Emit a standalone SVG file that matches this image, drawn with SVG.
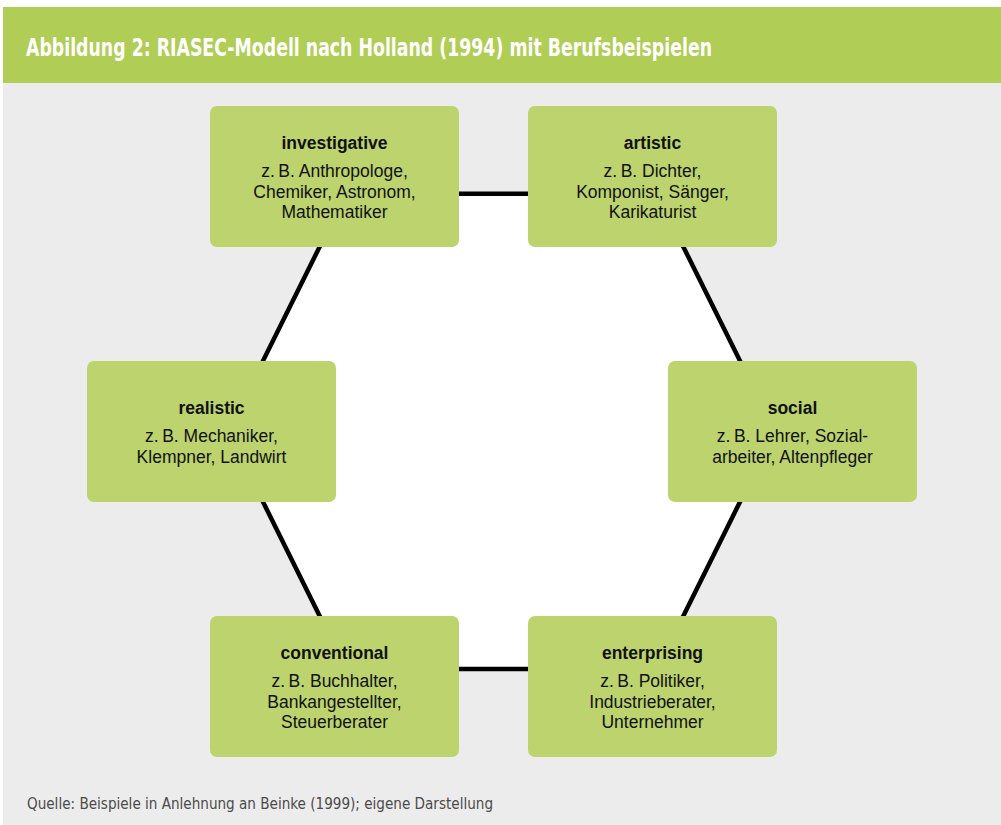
<svg xmlns="http://www.w3.org/2000/svg" width="1001" height="825" viewBox="0 0 1001 825">
  <style>
    .page { fill: #ececec; }
    .band { fill: #b0cd55; }
    .heading { font-family: "DejaVu Sans Condensed", "DejaVu Sans", sans-serif; font-stretch: condensed; font-weight: bold; font-size: 25px; fill: #ffffff; }
    .source { font-family: "DejaVu Sans Condensed", "DejaVu Sans", sans-serif; font-stretch: condensed; font-size: 16px; fill: #4a4a4a; }
    .box { fill: #bcd36e; }
    .ring { fill: #ffffff; stroke: #000000; stroke-width: 4.5; stroke-linejoin: miter; }
    .title { font-family: "Liberation Sans", Arial, sans-serif; font-weight: bold; font-size: 17.5px; fill: #111111; text-anchor: middle; }
    .body { font-family: "Liberation Sans", Arial, sans-serif; font-size: 17.5px; fill: #111111; text-anchor: middle; }
  </style>

  <!-- page background and header band -->
  <rect x="0" y="0" width="1001" height="825" fill="#ffffff"/>
  <rect class="page" x="3" y="83" width="998" height="742"/>
  <rect class="band" x="3" y="7" width="998" height="76"/>
  <text class="heading" x="26" y="56" textLength="686" lengthAdjust="spacingAndGlyphs">Abbildung 2: RIASEC-Modell nach Holland (1994) mit Berufsbeispielen</text>

  <!-- hexagon connecting the six types -->
  <g id="connectors">
    <polygon class="ring" points="346,193.7 657,193.7 775,431.4 657,669 346,669 228,431.4"/>
  </g>

  <g id="investigative">
    <rect class="box" x="210" y="106" width="249" height="141" rx="7"/>
    <text class="title" x="334.5" y="149">investigative</text>
    <text class="body" x="334.5" y="177">z.&#8201;B. Anthropologe,</text>
    <text class="body" x="334.5" y="197.5">Chemiker, Astronom,</text>
    <text class="body" x="334.5" y="218">Mathematiker</text>
  </g>

  <g id="artistic">
    <rect class="box" x="528" y="106" width="249" height="141" rx="7"/>
    <text class="title" x="652.5" y="149">artistic</text>
    <text class="body" x="652.5" y="177">z.&#8201;B. Dichter,</text>
    <text class="body" x="652.5" y="197.5">Komponist, Sänger,</text>
    <text class="body" x="652.5" y="218">Karikaturist</text>
  </g>

  <g id="realistic">
    <rect class="box" x="87" y="361" width="249" height="141" rx="7"/>
    <text class="title" x="211.5" y="414">realistic</text>
    <text class="body" x="211.5" y="442">z.&#8201;B. Mechaniker,</text>
    <text class="body" x="211.5" y="462.5">Klempner, Landwirt</text>
  </g>

  <g id="social">
    <rect class="box" x="668" y="361" width="249" height="141" rx="7"/>
    <text class="title" x="792.5" y="414">social</text>
    <text class="body" x="792.5" y="442">z.&#8201;B. Lehrer, Sozial-</text>
    <text class="body" x="792.5" y="462.5">arbeiter, Altenpfleger</text>
  </g>

  <g id="conventional">
    <rect class="box" x="210" y="616" width="249" height="141" rx="7"/>
    <text class="title" x="334.5" y="659">conventional</text>
    <text class="body" x="334.5" y="687">z.&#8201;B. Buchhalter,</text>
    <text class="body" x="334.5" y="707.5">Bankangestellter,</text>
    <text class="body" x="334.5" y="728">Steuerberater</text>
  </g>

  <g id="enterprising">
    <rect class="box" x="528" y="616" width="249" height="141" rx="7"/>
    <text class="title" x="652.5" y="659">enterprising</text>
    <text class="body" x="652.5" y="687">z.&#8201;B. Politiker,</text>
    <text class="body" x="652.5" y="707.5">Industrieberater,</text>
    <text class="body" x="652.5" y="728">Unternehmer</text>
  </g>

  <text class="source" x="27" y="809" textLength="466" lengthAdjust="spacingAndGlyphs">Quelle: Beispiele in Anlehnung an Beinke (1999); eigene Darstellung</text>
</svg>
